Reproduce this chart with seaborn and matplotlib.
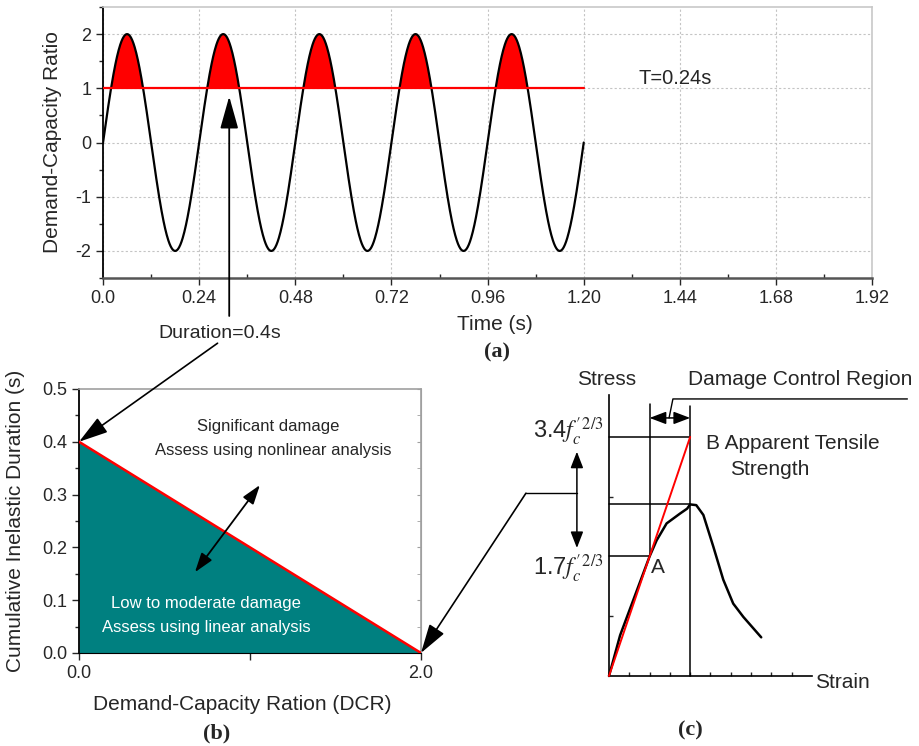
import numpy as np
import matplotlib
matplotlib.use("Agg")
import matplotlib.pyplot as plt
import seaborn as sns
from matplotlib.ticker import MultipleLocator

# ---------------- data ----------------
# (a) demand-capacity ratio history
AMPLITUDE = 2.0
PERIOD = 0.24
RECORD_END = 1.20
DCR_LIMIT = 1.0
TIME_TICKS = [0.0, 0.24, 0.48, 0.72, 0.96, 1.20, 1.44, 1.68, 1.92]
TIME_TICK_LABELS = ["0.0", "0.24", "0.48", "0.72", "0.96", "1.20", "1.44", "1.68", "1.92"]
DCR_TICKS = [-2, -1, 0, 1, 2]
DURATION_MARK_T = 0.315

# (b) damage limit line
LIMIT_DCR = [0.0, 2.0]
LIMIT_DURATION = [0.4, 0.0]
DUR_TICKS = [0.0, 0.1, 0.2, 0.3, 0.4, 0.5]
DUR_TICK_LABELS = ["0.0", "0.1", "0.2", "0.3", "0.4", "0.5"]
DCR_B_TICKS = [0.0, 1.0, 2.0]
DCR_B_LABELS = ["0.0", "", "2.0"]

# (c) stress-strain sketch
STRAIN = [0.0, 0.55, 2.0, 2.35, 2.84, 3.5, 3.85, 4.0, 4.3, 4.65, 5.14, 5.63, 6.12, 6.62, 7.5]
STRESS = [0.0, 0.58, 1.7, 1.93, 2.17, 2.31, 2.38, 2.44, 2.43, 2.29, 1.84, 1.37, 1.03, 0.84, 0.55]
LINEAR_STRAIN = [0.0, 4.0]
LINEAR_STRESS = [0.0, 3.4]
POINT_A = (2.0, 1.7)
POINT_B = (4.0, 3.4)
PEAK_STRESS = 2.44
STRESS_TICKS = [0.85, 2.55]
STRAIN_TICKS = [1, 2, 3, 4, 5, 6, 7, 8, 9]

# ---------------- style ----------------
sns.set_style("ticks")
plt.rcParams["font.family"] = ["Liberation Sans", "DejaVu Sans"]
plt.rcParams["axes.unicode_minus"] = False
plt.rcParams["mathtext.fontset"] = "stix"

TEAL = "#008080"
RED = "#ff0000"

fig = plt.figure(figsize=(9.2, 7.46), dpi=100)

# ================= (a) =================
ax_a = fig.add_axes([0.112, 0.6273, 0.836, 0.3633])
t = np.linspace(0, RECORD_END, 1201)
dcr = AMPLITUDE * np.sin(2 * np.pi * t / PERIOD)
ax_a.fill_between(t, dcr, DCR_LIMIT, where=dcr > DCR_LIMIT, interpolate=True,
                  color=RED, lw=0, zorder=2)
sns.lineplot(x=t, y=dcr, color="black", lw=1.6, ax=ax_a, zorder=3)
sns.lineplot(x=[0.0, RECORD_END], y=[DCR_LIMIT, DCR_LIMIT], color=RED, lw=1.6,
             ax=ax_a, zorder=4)
ax_a.set_xlim(0, 1.92)
ax_a.set_ylim(-2.5, 2.5)
ax_a.set_xticks(TIME_TICKS)
ax_a.set_xticklabels(TIME_TICK_LABELS)
ax_a.set_yticks(DCR_TICKS)
ax_a.xaxis.set_minor_locator(MultipleLocator(0.12))
ax_a.yaxis.set_minor_locator(MultipleLocator(0.5))
ax_a.grid(True, which="major", ls=(0, (2, 2)), color="#c4c4c4", lw=0.8)
ax_a.tick_params(axis="both", which="major", labelsize=13, length=5, width=1)
ax_a.tick_params(axis="both", which="minor", length=3, width=1)
ax_a.tick_params(axis="x", which="minor", direction="in")
ax_a.spines["left"].set_color("black")
ax_a.spines["left"].set_linewidth(1.3)
ax_a.spines["bottom"].set_color("#555555")
ax_a.spines["bottom"].set_linewidth(1.8)
for s in ("top", "right"):
    ax_a.spines[s].set_visible(True)
    ax_a.spines[s].set_color("#c8c8c8")
    ax_a.spines[s].set_linewidth(1.2)
ax_a.set_xlabel("Time (s)", fontsize=15)
ax_a.xaxis.set_label_coords(0.51, -0.135)
ax_a.set_ylabel("Demand-Capacity Ratio", fontsize=15)
ax_a.yaxis.set_label_coords(-0.053, 0.5)
ax_a.text(1.336, 1.19, "T=0.24s", fontsize=14.5, ha="left", va="center")
dur_text = ax_a.text(0.292, -3.53, "Duration=0.4s", fontsize=14, ha="center",
                     va="center")
ax_a.annotate("", xy=(DURATION_MARK_T, 0.85), xytext=(DURATION_MARK_T, -3.2),
              annotation_clip=False,
              arrowprops=dict(arrowstyle="-|>,head_length=1.0,head_width=0.28",
                              mutation_scale=20, color="black", lw=1.3,
                              shrinkA=0, shrinkB=0))

# ================= (b) =================
ax_b = fig.add_axes([0.0859, 0.1247, 0.3717, 0.3539])
ax_b.fill_between(LIMIT_DCR, LIMIT_DURATION, 0, color=TEAL, lw=0, zorder=1)
sns.lineplot(x=LIMIT_DCR, y=LIMIT_DURATION, color=RED, lw=1.8, ax=ax_b, zorder=3)
ax_b.set_xlim(0, 2.0)
ax_b.set_ylim(0, 0.5)
ax_b.set_xticks(DCR_B_TICKS)
ax_b.set_xticklabels(DCR_B_LABELS)
ax_b.set_yticks(DUR_TICKS)
ax_b.set_yticklabels(DUR_TICK_LABELS)
ax_b.yaxis.set_minor_locator(MultipleLocator(0.05))
ax_b.tick_params(axis="both", which="major", labelsize=13, length=5, width=1)
ax_b.tick_params(axis="y", which="minor", length=3, width=1)
ax_b.spines["left"].set_color("black")
ax_b.spines["left"].set_linewidth(1.3)
ax_b.spines["bottom"].set_color("black")
for s in ("top", "right"):
    ax_b.spines[s].set_visible(True)
    ax_b.spines[s].set_color("#a0a0a0")
    ax_b.spines[s].set_linewidth(1.2)
sec = ax_b.secondary_yaxis("right")
sec.set_yticks(DUR_TICKS)
sec.yaxis.set_minor_locator(MultipleLocator(0.05))
sec.tick_params(axis="y", which="both", direction="in", length=3, color="#a0a0a0",
                labelright=False)
sec.spines["right"].set_color("#a0a0a0")
ax_b.set_xlabel("Demand-Capacity Ration (DCR)", fontsize=15)
ax_b.xaxis.set_label_coords(0.477, -0.158)
ax_b.set_ylabel("Cumulative Inelastic Duration (s)", fontsize=15)
ax_b.yaxis.set_label_coords(-0.158, 0.5)
ax_b.text(1.105, 0.428, "Significant damage", fontsize=12, ha="center", va="center")
ax_b.text(1.135, 0.384, "Assess using nonlinear analysis", fontsize=12,
          ha="center", va="center")
ax_b.text(0.742, 0.093, "Low to moderate damage", fontsize=12, ha="center",
          va="center", color="white")
ax_b.text(0.742, 0.049, "Assess using linear analysis", fontsize=12, ha="center",
          va="center", color="white")
ax_b.annotate("", xy=(0.678, 0.153), xytext=(1.058, 0.318),
              arrowprops=dict(arrowstyle="<|-|>,head_length=0.9,head_width=0.3",
                              mutation_scale=13, color="black", lw=1.3,
                              shrinkA=0, shrinkB=0), zorder=5)
# arrow from "Duration=0.4s" to the intercept
ax_b.annotate("", xy=(LIMIT_DCR[0], LIMIT_DURATION[0]), xycoords="data",
              xytext=(0.48, -0.05), textcoords=dur_text, annotation_clip=False,
              arrowprops=dict(arrowstyle="-|>,head_length=1.0,head_width=0.3",
                              mutation_scale=18, color="black", lw=1.2,
                              shrinkA=0, shrinkB=0), zorder=6)

# ================= (c) =================
ax_c = fig.add_axes([0.5516, 0.009, 0.4413, 0.509])
ax_c.patch.set_visible(False)
ax_c.set_xlim(-5, 15)
ax_c.set_ylim(-0.9, 4.5)
for s in ("top", "right"):
    ax_c.spines[s].set_visible(False)
ax_c.spines["left"].set_position(("data", 0))
ax_c.spines["bottom"].set_position(("data", 0))
ax_c.spines["left"].set_bounds(0, 4.0)
ax_c.spines["bottom"].set_bounds(0, 10.0)
for s in ("left", "bottom"):
    ax_c.spines[s].set_color("black")
    ax_c.spines[s].set_linewidth(1.2)
ax_c.set_xticks(STRAIN_TICKS)
ax_c.set_yticks(STRESS_TICKS)
ax_c.tick_params(axis="both", direction="in", length=3, width=1,
                 labelbottom=False, labelleft=False)

# guide lines
ax_c.plot([0, POINT_B[0]], [POINT_B[1], POINT_B[1]], color="black", lw=1.1)
ax_c.plot([0, POINT_B[0]], [PEAK_STRESS, PEAK_STRESS], color="black", lw=1.1)
ax_c.plot([0, POINT_A[0]], [POINT_A[1], POINT_A[1]], color="black", lw=1.1)
ax_c.plot([POINT_A[0], POINT_A[0]], [POINT_A[1], 3.87], color="black", lw=1.1)
ax_c.plot([POINT_B[0], POINT_B[0]], [0, 3.84], color="black", lw=1.1)

sns.lineplot(x=STRAIN, y=STRESS, sort=False, estimator=None, color="black",
             lw=1.8, ax=ax_c, zorder=3)
sns.lineplot(x=LINEAR_STRAIN, y=LINEAR_STRESS, sort=False, estimator=None,
             color=RED, lw=1.4, ax=ax_c, zorder=4)

# damage control region
ax_c.annotate("", xy=(POINT_A[0], 3.67), xytext=(POINT_B[0], 3.67),
              arrowprops=dict(arrowstyle="<|-|>,head_length=1.0,head_width=0.38",
                              mutation_scale=10, color="black", lw=1.1,
                              shrinkA=0, shrinkB=0))
ax_c.plot([2.96, 3.15, 14.7], [3.67, 3.94, 3.94], color="black", lw=1.0,
          clip_on=False)
ax_c.text(3.9, 4.21, "Damage Control Region", fontsize=15, ha="left", va="center")
ax_c.text(-0.1, 4.21, "Stress", fontsize=15, ha="center", va="center")
ax_c.text(10.15, -0.09, "Strain", fontsize=15, ha="left", va="center")
ax_c.text(4.78, 3.31, "B Apparent Tensile", fontsize=15, ha="left", va="center")
ax_c.text(5.96, 2.94, "Strength", fontsize=15, ha="left", va="center")
ax_c.text(2.41, 1.54, "A", fontsize=15, ha="center", va="center")
ax_c.text(-0.25, 3.47, r"3.4$f_c^{\prime\,2/3}$", fontsize=17, ha="right",
          va="center")
ax_c.text(-0.25, 1.52, r"1.7$f_c^{\prime\,2/3}$", fontsize=17, ha="right",
          va="center")
ax_c.annotate("", xy=(-1.58, 1.82), xytext=(-1.58, 3.19),
              arrowprops=dict(arrowstyle="<|-|>,head_length=0.9,head_width=0.35",
                              mutation_scale=11, color="black", lw=1.1,
                              shrinkA=0, shrinkB=0))
ax_c.plot([-1.58, -4.09], [2.60, 2.60], color="black", lw=1.0, clip_on=False)
ax_c.annotate("", xy=(LIMIT_DCR[1], LIMIT_DURATION[1]), xycoords=ax_b.transData,
              xytext=(-4.09, 2.60), textcoords="data",
              annotation_clip=False,
              arrowprops=dict(arrowstyle="-|>,head_length=1.0,head_width=0.3",
                              mutation_scale=18, color="black", lw=1.2,
                              shrinkA=0, shrinkB=0), zorder=6)

# panel labels
serif = ["Liberation Serif", "DejaVu Serif"]
fig.text(0.540, 0.527, "(a)", fontsize=16, fontweight="bold", family=serif,
         ha="center", va="center")
fig.text(0.236, 0.0174, "(b)", fontsize=16, fontweight="bold", family=serif,
         ha="center", va="center")
fig.text(0.750, 0.0214, "(c)", fontsize=16, fontweight="bold", family=serif,
         ha="center", va="center")

fig.savefig("out.png", dpi=100)
